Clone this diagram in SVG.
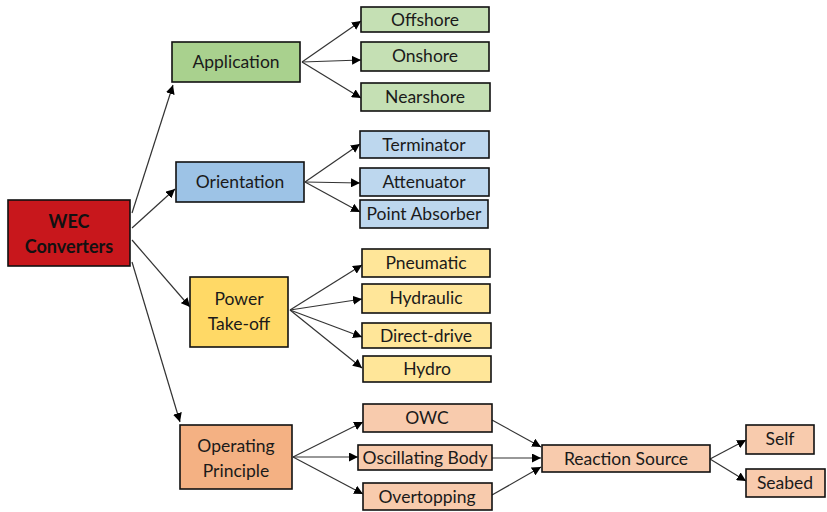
<svg xmlns="http://www.w3.org/2000/svg" width="827" height="512" viewBox="0 0 827 512">
<defs>
<marker id="ah" viewBox="0 0 10 10" refX="10" refY="5" markerWidth="9" markerHeight="9" markerUnits="userSpaceOnUse" orient="auto">
<path d="M0,0 L10,5 L0,10 z" fill="#000"/>
</marker>
<style>
.b{stroke:#111;stroke-width:1.6}
.t{font-family:Lato,"Open Sans",sans-serif;font-size:17.5px;fill:#1a1a1a;text-anchor:middle}
.tb{font-weight:bold;fill:#111;font-size:18px}
.c{stroke:#333;stroke-width:1.2;fill:none;marker-end:url(#ah)}
.red{fill:#C8171C}
.g1{fill:#A9D18E}.g2{fill:#C5E0B4}
.bl1{fill:#9DC3E6}.bl2{fill:#BDD7EE}
.y1{fill:#FFD966}.y2{fill:#FFE699}
.o1{fill:#F4B183}.o2{fill:#F8CBAD}
</style>
</defs>
<rect width="827" height="512" fill="#fff"/>
<g id="connectors">
<line class="c" x1="132" y1="213" x2="173" y2="85"/>
<line class="c" x1="132" y1="228" x2="175" y2="189"/>
<line class="c" x1="132" y1="240" x2="190" y2="307"/>
<line class="c" x1="132" y1="262" x2="180" y2="422"/>
<line class="c" x1="302" y1="62" x2="361" y2="21"/>
<line class="c" x1="302" y1="62" x2="361" y2="60"/>
<line class="c" x1="302" y1="62" x2="361" y2="98"/>
<line class="c" x1="305" y1="182" x2="360" y2="144"/>
<line class="c" x1="305" y1="182" x2="360" y2="183"/>
<line class="c" x1="305" y1="182" x2="360" y2="212"/>
<line class="c" x1="290" y1="310" x2="362" y2="265"/>
<line class="c" x1="290" y1="310" x2="362" y2="299"/>
<line class="c" x1="290" y1="310" x2="362" y2="337"/>
<line class="c" x1="290" y1="310" x2="362" y2="368"/>
<line class="c" x1="293" y1="457" x2="363" y2="422"/>
<line class="c" x1="293" y1="457" x2="358" y2="457"/>
<line class="c" x1="293" y1="457" x2="363" y2="494"/>
<line class="c" x1="492" y1="420" x2="541" y2="447"/>
<line class="c" x1="492" y1="458" x2="541" y2="458"/>
<line class="c" x1="492" y1="495" x2="541" y2="467"/>
<line class="c" x1="710" y1="459" x2="746" y2="440"/>
<line class="c" x1="710" y1="459" x2="746" y2="481"/>
</g>
<g id="wec"><rect class="b red" x="8" y="200" width="122" height="66"/><text class="t tb" x="69" y="228">WEC</text><text class="t tb" x="69" y="253">Converters</text></g>
<g id="application"><rect class="b g1" x="172" y="42" width="128" height="40"/><text class="t" x="236" y="68">Application</text></g>
<g id="orientation"><rect class="b bl1" x="176" y="162" width="128" height="40"/><text class="t" x="240" y="188">Orientation</text></g>
<g id="pto"><rect class="b y1" x="190" y="277" width="98" height="70"/><text class="t" x="239" y="305">Power</text><text class="t" x="239" y="330">Take-off</text></g>
<g id="operating"><rect class="b o1" x="180" y="425" width="112" height="64"/><text class="t" x="236" y="452">Operating</text><text class="t" x="236" y="477">Principle</text></g>
<g id="offshore"><rect class="b g2" x="361" y="7" width="128" height="25"/><text class="t" x="425" y="26">Offshore</text></g>
<g id="onshore"><rect class="b g2" x="361" y="42" width="128" height="29"/><text class="t" x="425" y="62">Onshore</text></g>
<g id="nearshore"><rect class="b g2" x="361" y="83" width="129" height="28"/><text class="t" x="425" y="103">Nearshore</text></g>
<g id="terminator"><rect class="b bl2" x="360" y="131" width="129" height="27"/><text class="t" x="424" y="151">Terminator</text></g>
<g id="attenuator"><rect class="b bl2" x="360" y="168" width="129" height="28"/><text class="t" x="424" y="188">Attenuator</text></g>
<g id="pointabsorber"><rect class="b bl2" x="360" y="200" width="128" height="28"/><text class="t" x="424" y="220">Point Absorber</text></g>
<g id="pneumatic"><rect class="b y2" x="362" y="249" width="128" height="28"/><text class="t" x="426" y="269">Pneumatic</text></g>
<g id="hydraulic"><rect class="b y2" x="362" y="284" width="128" height="29"/><text class="t" x="426" y="304">Hydraulic</text></g>
<g id="directdrive"><rect class="b y2" x="362" y="323" width="129" height="25"/><text class="t" x="426" y="342">Direct-drive</text></g>
<g id="hydro"><rect class="b y2" x="363" y="356" width="128" height="26"/><text class="t" x="427" y="375">Hydro</text></g>
<g id="owc"><rect class="b o2" x="363" y="404" width="129" height="28"/><text class="t" x="427" y="424">OWC</text></g>
<g id="oscbody"><rect class="b o2" x="358" y="445" width="134" height="25"/><text class="t" x="425" y="464">Oscillating Body</text></g>
<g id="overtopping"><rect class="b o2" x="363" y="483" width="129" height="27"/><text class="t" x="427" y="503">Overtopping</text></g>
<g id="reaction"><rect class="b o2" x="542" y="445" width="168" height="27"/><text class="t" x="626" y="465">Reaction Source</text></g>
<g id="self"><rect class="b o2" x="746" y="425" width="68" height="29"/><text class="t" x="780" y="445">Self</text></g>
<g id="seabed"><rect class="b o2" x="746" y="469" width="79" height="28"/><text class="t" x="785" y="489">Seabed</text></g>
</svg>
